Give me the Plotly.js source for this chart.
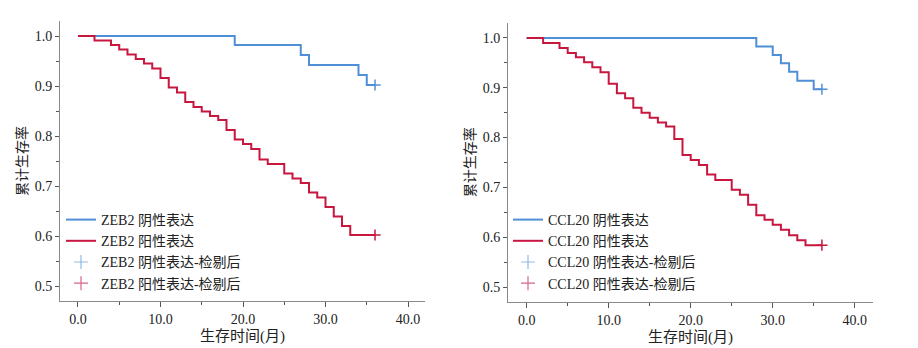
<!DOCTYPE html>
<html><head><meta charset="utf-8">
<script src="https://cdn.plot.ly/plotly-3.0.1.min.js"></script>
<style>html,body{margin:0;padding:0;background:#fff;}#chart{width:918px;height:348px;}</style>
</head><body><div id="chart"></div>
<script>
// ---- Data ----
// Left panel: ZEB2
const zeb2NegT = [0, 19, 27, 28, 34, 35];
const zeb2NegS = [1.0, 0.982, 0.962, 0.942, 0.922, 0.902];
const zeb2NegCensorT = [36];
const zeb2PosT = [0, 2, 4, 5, 6, 7, 8, 9, 10, 11, 12, 13, 14, 15, 16, 17, 18, 19, 20, 21, 22, 23, 25, 26, 27, 28, 29, 30, 31, 32, 33];
const zeb2PosS = [1.0, 0.991, 0.982, 0.973, 0.963, 0.954, 0.945, 0.935, 0.916, 0.897, 0.887, 0.868, 0.858, 0.849, 0.840, 0.832, 0.812, 0.793, 0.784, 0.774, 0.753, 0.744, 0.725, 0.715, 0.706, 0.687, 0.677, 0.658, 0.639, 0.620, 0.602];
const zeb2PosCensorT = [36];
// Right panel: CCL20
const ccl20NegT = [0, 28, 30, 31, 32, 33, 35];
const ccl20NegS = [1.0, 0.983, 0.966, 0.949, 0.932, 0.914, 0.897];
const ccl20NegCensorT = [36];
const ccl20PosT = [0, 2, 4, 5, 6, 7, 8, 9, 10, 11, 12, 13, 14, 15, 16, 17, 18, 19, 20, 21, 22, 23, 25, 26, 27, 28, 29, 30, 31, 32, 33, 34];
const ccl20PosS = [1.0, 0.990, 0.980, 0.970, 0.961, 0.951, 0.941, 0.931, 0.908, 0.889, 0.879, 0.860, 0.850, 0.840, 0.830, 0.822, 0.797, 0.765, 0.755, 0.745, 0.726, 0.715, 0.695, 0.685, 0.665, 0.644, 0.635, 0.625, 0.615, 0.604, 0.594, 0.584];
const ccl20PosCensorT = [36];

const xTickVals = [0, 10, 20, 30, 40];
const yTickVals = [0.5, 0.6, 0.7, 0.8, 0.9, 1.0];
const xTitle = '生存时间(月)';
const yTitle = '累计生存率';
const leftNames = ['ZEB2 阴性表达', 'ZEB2 阳性表达', 'ZEB2 阴性表达-检剔后', 'ZEB2 阳性表达-检剔后'];
const rightNames = ['CCL20 阴性表达', 'CCL20 阳性表达', 'CCL20 阴性表达-检剔后', 'CCL20 阳性表达-检剔后'];

// ---- Styles ----
const BLUE = '#4f8fd6';
const RED = '#c8173f';
const LBLUE = '#8dbbe8';
const PINK = '#d9658a';
const FONT = '"Liberation Serif", "Noto Sans CJK SC", serif';
const CJK = '"Liberation Serif", "Noto Sans CJK SC", serif';

function stepTrace(t, s, censorT, name, color, xa, ya, legend) {
  const last = s[s.length - 1];
  return {
    x: t.concat(censorT), y: s.concat(censorT.map(() => last)),
    mode: 'lines', line: {shape: 'hv', color: color, width: 2},
    name: name, xaxis: xa, yaxis: ya, legend: legend, hoverinfo: 'skip'
  };
}
function censorTrace(t, s, censorT, name, color, legColor, xa, ya, legend) {
  const last = s[s.length - 1];
  return [
    {x: censorT, y: censorT.map(() => last), mode: 'markers',
     marker: {symbol: 'cross-thin-open', size: 8, color: color, line: {color: color, width: 1.5}},
     showlegend: false, xaxis: xa, yaxis: ya, hoverinfo: 'skip'},
    {x: [null], y: [null], mode: 'markers',
     marker: {symbol: 'cross-thin-open', size: 10, color: legColor, line: {color: legColor, width: 1.2}},
     name: name, xaxis: xa, yaxis: ya, legend: legend, hoverinfo: 'skip'}
  ];
}

const data = [
  stepTrace(zeb2NegT, zeb2NegS, zeb2NegCensorT, leftNames[0], BLUE, 'x', 'y', 'legend'),
  stepTrace(zeb2PosT, zeb2PosS, zeb2PosCensorT, leftNames[1], RED, 'x', 'y', 'legend'),
  ...censorTrace(zeb2NegT, zeb2NegS, zeb2NegCensorT, leftNames[2], BLUE, LBLUE, 'x', 'y', 'legend'),
  ...censorTrace(zeb2PosT, zeb2PosS, zeb2PosCensorT, leftNames[3], RED, PINK, 'x', 'y', 'legend'),
  stepTrace(ccl20NegT, ccl20NegS, ccl20NegCensorT, rightNames[0], BLUE, 'x2', 'y2', 'legend2'),
  stepTrace(ccl20PosT, ccl20PosS, ccl20PosCensorT, rightNames[1], RED, 'x2', 'y2', 'legend2'),
  ...censorTrace(ccl20NegT, ccl20NegS, ccl20NegCensorT, rightNames[2], BLUE, LBLUE, 'x2', 'y2', 'legend2'),
  ...censorTrace(ccl20PosT, ccl20PosS, ccl20PosCensorT, rightNames[3], RED, PINK, 'x2', 'y2', 'legend2')
];

function xAxis(domain, range, anchor) {
  return {
    domain: domain, range: range, anchor: anchor,
    tickvals: xTickVals, tickformat: '.1f',
    showgrid: false, zeroline: false,
    showline: true, linecolor: '#8a8a8a', linewidth: 1,
    ticks: 'outside', ticklen: 5, tickcolor: '#555', tickwidth: 1,
    minor: {dtick: 5, tick0: 0, ticks: 'outside', ticklen: 3, tickcolor: '#555', showgrid: false},
    tickfont: {family: FONT, size: 14, color: '#222'},
    title: {text: xTitle, font: {family: CJK, size: 15, color: '#222'}, standoff: 4}
  };
}
function yAxis(domain, range, anchor) {
  return {
    domain: domain, range: range, anchor: anchor,
    tickvals: yTickVals, tickformat: '.1f',
    showgrid: false, zeroline: false,
    showline: true, linecolor: '#8a8a8a', linewidth: 1,
    ticks: 'outside', ticklen: 4, tickcolor: '#555', tickwidth: 1,
    minor: {dtick: 0.05, tick0: 0, ticks: 'outside', ticklen: 3, tickcolor: '#555', showgrid: false},
    tickfont: {family: FONT, size: 14, color: '#222'},
    title: {text: yTitle, font: {family: CJK, size: 14, color: '#222'}, standoff: 3}
  };
}
function legendBox(x) {
  return {x: x, y: 1 - 204 / 348, xanchor: 'left', yanchor: 'top',
    bgcolor: 'rgba(0,0,0,0)', borderwidth: 0, tracegroupgap: 0,
    itemwidth: 30, font: {family: CJK, size: 14, color: '#222'}};
}

const layout = {
  width: 918, height: 348,
  margin: {l: 0, r: 0, t: 0, b: 0},
  paper_bgcolor: '#fff', plot_bgcolor: '#fff',
  showlegend: true,
  xaxis: xAxis([60 / 918, 425 / 918], [-2.18, 42.06], 'y'),
  yaxis: yAxis([1 - 301 / 348, 1 - 21 / 348], [0.47, 1.03], 'x'),
  xaxis2: xAxis([508 / 918, 873 / 918], [-2.28, 42.23], 'y2'),
  yaxis2: yAxis([1 - 301.7 / 348, 1 - 23 / 348], [0.4705, 1.030], 'x2'),
  legend: legendBox(61 / 918),
  legend2: legendBox(508 / 918)
};

Plotly.newPlot('chart', data, layout, {staticPlot: true, displayModeBar: false});
</script>
</body></html>
